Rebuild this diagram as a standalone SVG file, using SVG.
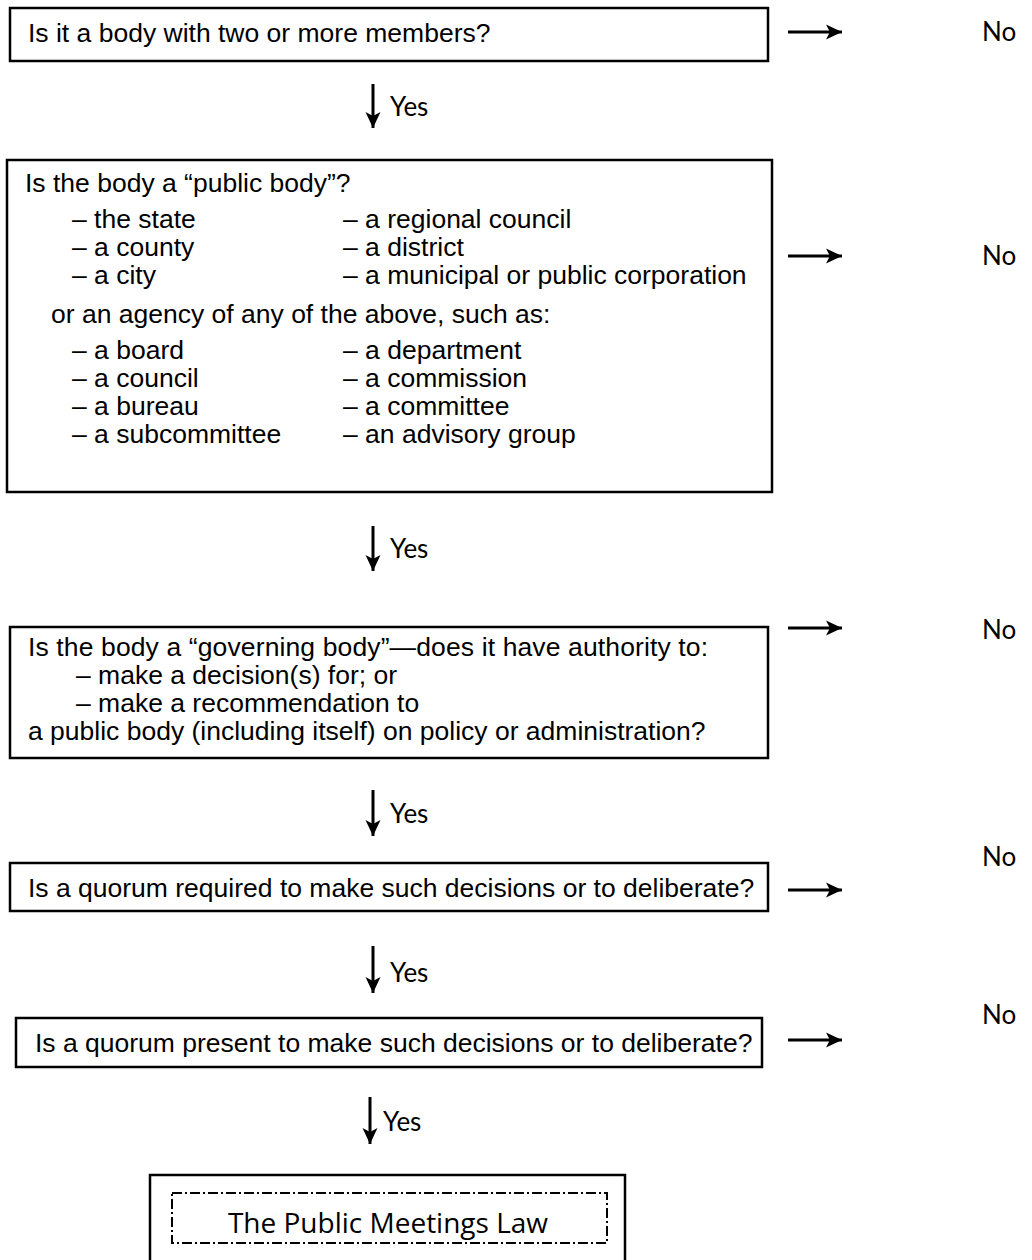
<svg xmlns="http://www.w3.org/2000/svg" width="1032" height="1260" viewBox="0 0 1032 1260">
<style>
  .box { fill: #fff; stroke: #000; stroke-width: 2.5; }
  .t { font-family: "Liberation Sans", Arial, sans-serif; font-size: 26.5px; fill: #000; }
  .lbl { font-family: Lato, "DejaVu Sans", sans-serif; font-size: 26px; fill: #000; }
  .law { font-family: "Open Sans", "Noto Sans", sans-serif; font-size: 28px; fill: #000; }
  .conn { stroke: #000; stroke-width: 3; fill: none; }
  .dash { fill: none; stroke: #000; stroke-width: 2; stroke-dasharray: 10 3 2 3; }
</style>
<defs>
  <marker id="ah" markerUnits="userSpaceOnUse" markerWidth="20" markerHeight="18" refX="16" refY="9" orient="auto">
    <path d="M0,1.5 L16,9 L0,16.5 L4,9 z" fill="#000"/>
  </marker>
</defs>
<rect width="1032" height="1260" fill="#fff"/>

<g id="q1">
  <rect class="box" x="10" y="8" width="758" height="53"/>
  <text class="t" x="28" y="42">Is it a body with two or more members?</text>
</g>

<g id="q2">
  <rect class="box" x="7" y="160" width="765" height="332"/>
  <text class="t" x="25" y="192">Is the body a “public body”?</text>
  <text class="t" x="72" y="228">– the state</text>
  <text class="t" x="72" y="256">– a county</text>
  <text class="t" x="72" y="284">– a city</text>
  <text class="t" x="343" y="228">– a regional council</text>
  <text class="t" x="343" y="256">– a district</text>
  <text class="t" x="343" y="284">– a municipal or public corporation</text>
  <text class="t" x="51" y="323">or an agency of any of the above, such as:</text>
  <text class="t" x="72" y="359">– a board</text>
  <text class="t" x="72" y="387">– a council</text>
  <text class="t" x="72" y="415">– a bureau</text>
  <text class="t" x="72" y="443">– a subcommittee</text>
  <text class="t" x="343" y="359">– a department</text>
  <text class="t" x="343" y="387">– a commission</text>
  <text class="t" x="343" y="415">– a committee</text>
  <text class="t" x="343" y="443">– an advisory group</text>
</g>

<g id="q3">
  <rect class="box" x="10" y="627" width="758" height="131"/>
  <text class="t" x="28" y="656" textLength="680" lengthAdjust="spacing">Is the body a “governing body”—does it have authority to:</text>
  <text class="t" x="76" y="684">– make a decision(s) for; or</text>
  <text class="t" x="76" y="712">– make a recommendation to</text>
  <text class="t" x="28" y="740">a public body (including itself) on policy or administration?</text>
</g>

<g id="q4">
  <rect class="box" x="10" y="863" width="758" height="48"/>
  <text class="t" x="28" y="897">Is a quorum required to make such decisions or to deliberate?</text>
</g>

<g id="q5">
  <rect class="box" x="16" y="1018" width="746" height="49"/>
  <text class="t" x="35" y="1052">Is a quorum present to make such decisions or to deliberate?</text>
</g>

<g id="law">
  <rect class="box" x="150" y="1175" width="475" height="110"/>
  <rect class="dash" x="172" y="1193" width="435" height="50"/>
  <text class="law" x="388" y="1233" text-anchor="middle">The Public Meetings Law</text>
</g>

<g id="connectors">
  <line class="conn" x1="788" y1="32" x2="842" y2="32" marker-end="url(#ah)"/>
  <line class="conn" x1="788" y1="256" x2="842" y2="256" marker-end="url(#ah)"/>
  <line class="conn" x1="788" y1="628" x2="842" y2="628" marker-end="url(#ah)"/>
  <line class="conn" x1="788" y1="890" x2="842" y2="890" marker-end="url(#ah)"/>
  <line class="conn" x1="788" y1="1040" x2="842" y2="1040" marker-end="url(#ah)"/>

  <line class="conn" x1="373" y1="84" x2="373" y2="128" marker-end="url(#ah)"/>
  <line class="conn" x1="373" y1="526" x2="373" y2="571" marker-end="url(#ah)"/>
  <line class="conn" x1="373" y1="790" x2="373" y2="836" marker-end="url(#ah)"/>
  <line class="conn" x1="373" y1="946" x2="373" y2="993" marker-end="url(#ah)"/>
  <line class="conn" x1="370" y1="1097" x2="370" y2="1144" marker-end="url(#ah)"/>

  <text class="lbl" x="982" y="41">No</text>
  <text class="lbl" x="982" y="265">No</text>
  <text class="lbl" x="982" y="639">No</text>
  <text class="lbl" x="982" y="866">No</text>
  <text class="lbl" x="982" y="1024">No</text>

  <text class="lbl" x="390" y="116">Yes</text>
  <text class="lbl" x="390" y="558">Yes</text>
  <text class="lbl" x="390" y="823">Yes</text>
  <text class="lbl" x="390" y="982">Yes</text>
  <text class="lbl" x="383" y="1131">Yes</text>
</g>
</svg>
